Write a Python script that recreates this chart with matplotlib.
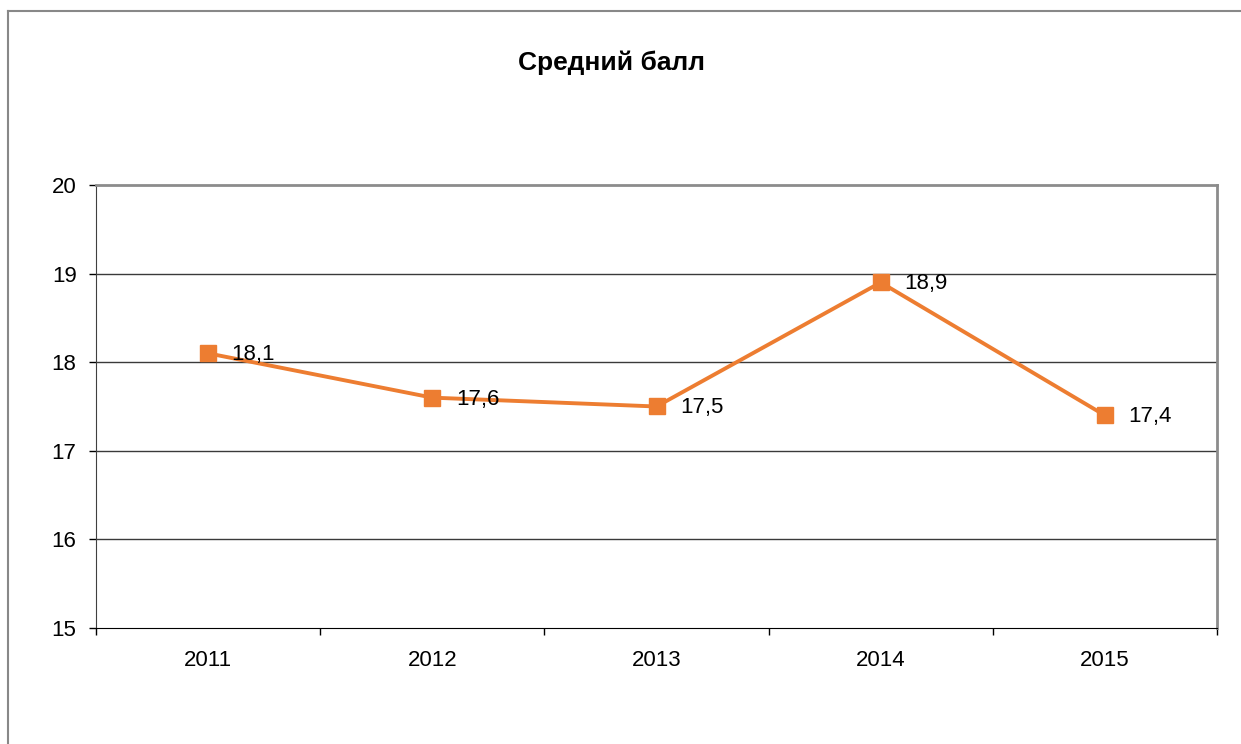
import numpy as np
import matplotlib.pyplot as plt
from matplotlib.lines import Line2D

plt.rcParams["font.family"] = ["Liberation Sans", "DejaVu Sans"]

years = ["2011", "2012", "2013", "2014", "2015"]
scores = [18.1, 17.6, 17.5, 18.9, 17.4]
y_ticks = [15, 16, 17, 18, 19, 20]

orange = "#ED7D31"

fig = plt.figure(figsize=(12.41, 7.44), dpi=100)
ax = fig.add_axes([96/1241, 116/744, 1121/1241, 443/744])

x = np.arange(len(years))
ax.plot(x, scores, color=orange, lw=2.8, marker="s", ms=11, zorder=3)
for xi, v in zip(x, scores):
    ax.annotate(f"{v:.1f}".replace(".", ","), (xi, v), xytext=(17, -1),
                textcoords="offset points", ha="left", va="center", fontsize=16)

ax.set_xlim(-0.5, len(years) - 0.5)
ax.set_ylim(15, 20)
ax.set_yticks(y_ticks)
ax.set_xticks(x)
ax.set_xticklabels(years)
ax.set_xticks(np.arange(-0.5, len(years)), minor=True)
ax.tick_params(axis="x", which="major", length=0, pad=16, labelsize=16)
ax.tick_params(axis="x", which="minor", length=5, width=1, color="black")
ax.tick_params(axis="y", length=5, width=1, pad=9, labelsize=16)

for yv in y_ticks[1:-1]:
    ax.axhline(yv, color="#3a3a3a", lw=1, zorder=1)

ax.spines["left"].set_color("#404040")
ax.spines["bottom"].set_color("black")
for s in ["top", "right"]:
    ax.spines[s].set_color("#8c8c8c")
    ax.spines[s].set_linewidth(2)

fig.text(612/1241, 1 - 63/744, "Средний балл", ha="center", va="center",
         fontsize=19, fontweight="bold")

# outer frame (left and top edges only visible)
fig.add_artist(Line2D([7.5/1241, 7.5/1241], [0, 1 - 11/744], transform=fig.transFigure,
                      color="#888888", lw=1.5))
fig.add_artist(Line2D([7.5/1241, 1], [1 - 11/744, 1 - 11/744], transform=fig.transFigure,
                      color="#888888", lw=1.5))

plt.savefig("out.png", dpi=100)
